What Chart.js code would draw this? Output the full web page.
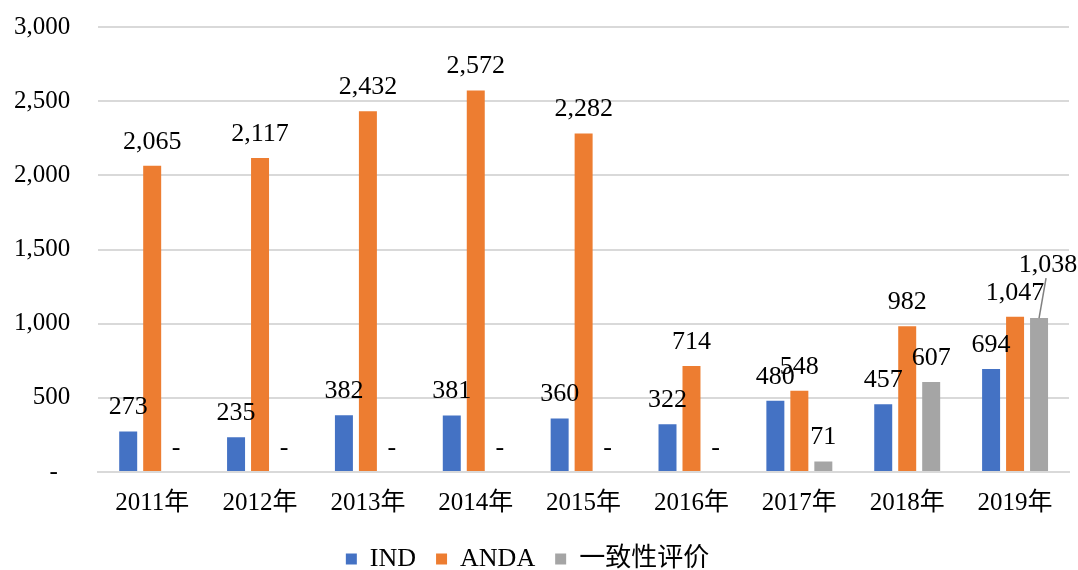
<!DOCTYPE html>
<html>
<head>
<meta charset="utf-8">
<script src="https://cdn.jsdelivr.net/npm/chart.js@4/dist/chart.umd.min.js"></script>
<style>
  html, body { margin: 0; padding: 0; background: #fff; }
  #wrap { width: 1078px; height: 570px; }
</style>
</head>
<body>
<div id="wrap"><canvas id="chart" width="1078" height="570"></canvas></div>
<script>
var years   = ['2011年', '2012年', '2013年', '2014年', '2015年', '2016年', '2017年', '2018年', '2019年'];
var indVals  = [273, 235, 382, 381, 360, 322, 480, 457, 694];
var andaVals = [2065, 2117, 2432, 2572, 2282, 714, 548, 982, 1047];
var consVals = [0, 0, 0, 0, 0, 0, 71, 607, 1038];
var seriesNames = ['IND', 'ANDA', '一致性评价'];

var FONT = '"Liberation Serif", "Times New Roman", "Noto Sans CJK SC", serif';

// labels moved off the bar, with a leader line (dataset-index, point-index)
var movedLabels = { '2-8': { dx: 9, dy: -29 } };

function fmt(v) {
  return v === 0 ? '-' : v.toLocaleString('en-US');
}

/*
 * draw value labels above each bar
 */
var barLabels = {
  id: 'barLabels',
  afterDatasetsDraw: function (chart) {
    var ctx = chart.ctx;
    ctx.save();
    ctx.font = '26px ' + FONT;
    ctx.fillStyle = '#000';
    ctx.textAlign = 'center';
    ctx.textBaseline = 'middle';
    chart.data.datasets.forEach(function (ds, di) {
      var meta = chart.getDatasetMeta(di);
      meta.data.forEach(function (bar, i) {
        var x = bar.x, y = bar.y - 24;
        var mv = movedLabels[di + '-' + i];
        if (mv) {
          x += mv.dx; y += mv.dy;
          ctx.strokeStyle = '#808080';
          ctx.lineWidth = 1.5;
          ctx.beginPath();
          ctx.moveTo(bar.x, bar.y);
          ctx.lineTo(bar.x + 7, y + 13);
          ctx.stroke();
        }
        ctx.fillText(fmt(ds.data[i]), x, y);
      });
    });
    ctx.restore();
  }
};

var chart = new Chart('chart', {
  type: 'bar',
  data: {
    labels: years,
    datasets: [
      { label: seriesNames[0], data: indVals,  backgroundColor: '#4472C4' },
      { label: seriesNames[1], data: andaVals, backgroundColor: '#ED7D31' },
      { label: seriesNames[2], data: consVals, backgroundColor: '#A5A5A5' }
    ]
  },
  options: {
    responsive: false,
    animation: false,
    datasets: { bar: { categoryPercentage: 0.667, barPercentage: 0.75 } },
    layout: { padding: { top: 0, right: 9, left: -14, bottom: -12 } },
    scales: {
      x: {
        grid: { display: false },
        border: { color: '#D9D9D9', width: 2 },
        ticks: { color: '#000', font: { family: FONT, size: 25 }, padding: 8 }
      },
      y: {
        min: 0, max: 3000,
        ticks: {
          stepSize: 500, color: '#000', padding: 28,
          font: { family: FONT, size: 25 },
          // accounting style: the zero dash sits a little left of the column
          callback: function (v) { return v === 0 ? '-  ' : fmt(v); }
        },
        grid: { color: '#D9D9D9', lineWidth: 2, drawTicks: false },
        border: { display: false },
        afterFit: function (scale) {
          // tick padding should only push labels sideways, not down from the top
          scale.paddingTop = 27;
          scale.paddingBottom = 15;
        }
      }
    },
    plugins: {
      legend: {
        position: 'bottom',
        labels: {
          color: '#000', boxWidth: 11, boxHeight: 11, padding: 20,
          font: { family: FONT, size: 26 }
        }
      },
      tooltip: { enabled: false }
    }
  },
  plugins: [barLabels]
});
</script>
</body>
</html>
